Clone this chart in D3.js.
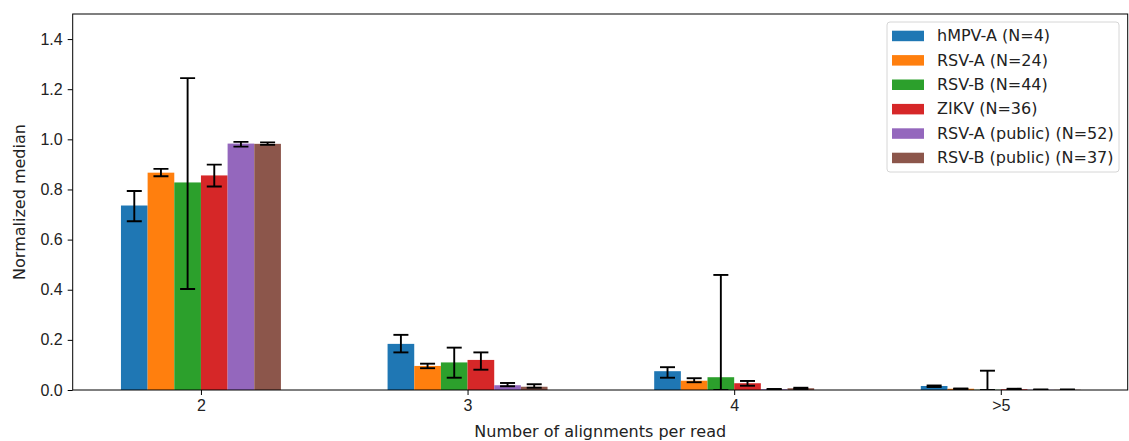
<!DOCTYPE html>
<html>
<head>
<meta charset="utf-8">
<style>
  body { margin: 0; background: #fff; }
  svg { display: block; font-family: "DejaVu Sans", sans-serif; }
</style>
<script src="https://cdn.jsdelivr.net/npm/d3@7"></script>
</head>
<body>
<svg width="1129" height="441"></svg>
<script>

// categories and series
var groups = ["2", "3", "4", ">5"];
var series = ["hMPV-A (N=4)", "RSV-A (N=24)", "RSV-B (N=44)", "ZIKV (N=36)", "RSV-A (public) (N=52)", "RSV-B (public) (N=37)"];
var colors = ["#1f77b4", "#ff7f0e", "#2ca02c", "#d62728", "#9467bd", "#8c564b"];

// median values per series, one entry per group
var medians = [
  [0.736, 0.184, 0.075, 0.016],
  [0.867, 0.096, 0.037, 0.005],
  [0.828, 0.110, 0.051, 0.001],
  [0.856, 0.120, 0.027, 0.003],
  [0.983, 0.019, 0.003, 0.001],
  [0.982, 0.013, 0.007, 0.001]
];
var errLow = [
  [0.673, 0.150, 0.049, 0.012],
  [0.853, 0.087, 0.031, 0.004],
  [0.403, 0.049, 0.000, 0.000],
  [0.812, 0.081, 0.017, 0.001],
  [0.971, 0.015, 0.002, 0.000],
  [0.978, 0.009, 0.004, 0.000]
];
var errHigh = [
  [0.794, 0.220, 0.091, 0.018],
  [0.882, 0.105, 0.047, 0.006],
  [1.244, 0.169, 0.459, 0.077],
  [0.899, 0.150, 0.036, 0.005],
  [0.990, 0.028, 0.004, 0.002],
  [0.988, 0.023, 0.009, 0.002]
];
var yTicks = [0, 0.2, 0.4, 0.6, 0.8, 1.0, 1.2, 1.4];

var svg = d3.select("svg");
var mLeft = 72.7, mRight = 1127.7, mTop = 14, mBottom = 390;
var barW = 0.1;
var fs = "16px";

var x = d3.scaleLinear().domain([-0.481, 3.476]).range([mLeft, mRight]);
var y = d3.scaleLinear().domain([0, 1.5]).range([mBottom, mTop]);

var rows = [];
series.forEach(function(s, i) {
  groups.forEach(function(g, j) {
    rows.push({s: i, pos: j + (i - 2.5) * barW, v: medians[i][j], lo: errLow[i][j], hi: errHigh[i][j]});
  });
});

svg.append("clipPath").attr("id", "plot")
  .append("rect").attr("x", mLeft).attr("y", mTop).attr("width", mRight - mLeft).attr("height", mBottom - mTop);

var plot = svg.append("g").attr("clip-path", "url(#plot)");

plot.selectAll(".bar")
    .data(rows)
  .enter().append("rect")
    .attr("class", "bar")
    .attr("x", function(d) { return x(d.pos - barW / 2); })
    .attr("width", function(d) { return x(d.pos + barW / 2) - x(d.pos - barW / 2); })
    .attr("y", function(d) { return y(d.v); })
    .attr("height", function(d) { return y(0) - y(d.v); })
    .attr("fill", function(d) { return colors[d.s]; });

var err = plot.selectAll(".err")
    .data(rows)
  .enter().append("g")
    .attr("class", "err")
    .attr("stroke", "#000")
    .attr("stroke-width", 1.9);

err.append("line")
    .attr("x1", function(d) { return x(d.pos); })
    .attr("x2", function(d) { return x(d.pos); })
    .attr("y1", function(d) { return y(d.lo); })
    .attr("y2", function(d) { return y(d.hi); });
err.append("line")
    .attr("x1", function(d) { return x(d.pos) - 7.5; })
    .attr("x2", function(d) { return x(d.pos) + 7.5; })
    .attr("y1", function(d) { return y(d.hi); })
    .attr("y2", function(d) { return y(d.hi); });
err.append("line")
    .attr("x1", function(d) { return x(d.pos) - 7.5; })
    .attr("x2", function(d) { return x(d.pos) + 7.5; })
    .attr("y1", function(d) { return y(d.lo); })
    .attr("y2", function(d) { return y(d.lo); });

// axes
var xAxis = d3.axisBottom(x)
    .tickValues(d3.range(groups.length))
    .tickFormat(function(d) { return groups[d]; })
    .tickSize(5).tickPadding(5);
var yAxis = d3.axisLeft(y)
    .tickValues(yTicks)
    .tickFormat(d3.format(".1f"))
    .tickSize(5).tickPadding(5);

var gx = svg.append("g").attr("transform", "translate(0," + mBottom + ")").call(xAxis);
var gy = svg.append("g").attr("transform", "translate(" + mLeft + ",0)").call(yAxis);
[gx, gy].forEach(function(g) {
  g.select(".domain").remove();
  g.selectAll(".tick line").attr("stroke", "#000").attr("stroke-width", 1);
  g.selectAll(".tick text").attr("fill", "#222").style("font-size", fs);
});

svg.append("rect")
    .attr("x", mLeft).attr("y", mTop)
    .attr("width", mRight - mLeft).attr("height", mBottom - mTop)
    .attr("fill", "none").attr("stroke", "#000").attr("stroke-width", 1);

svg.append("text")
    .attr("x", (mLeft + mRight) / 2).attr("y", 437)
    .attr("text-anchor", "middle")
    .style("font-size", fs).attr("fill", "#222")
    .text("Number of alignments per read");

svg.append("text")
    .attr("transform", "translate(25," + (mTop + mBottom) / 2 + ") rotate(-90)")
    .attr("text-anchor", "middle")
    .style("font-size", fs).attr("fill", "#222")
    .text("Normalized median");

// legend
var legend = svg.append("g");
legend.append("rect")
    .attr("x", 887).attr("y", 22).attr("width", 232).attr("height", 150).attr("rx", 3)
    .attr("fill", "#fff").attr("fill-opacity", 0.8)
    .attr("stroke", "#d6d6d6").attr("stroke-width", 1);

var item = legend.selectAll(".item")
    .data(series)
  .enter().append("g")
    .attr("class", "item")
    .attr("transform", function(d, i) { return "translate(892," + (35.7 + i * 24.4) + ")"; });
item.append("rect")
    .attr("x", 0).attr("y", -5).attr("width", 32).attr("height", 10.5)
    .attr("fill", function(d, i) { return colors[i]; });
item.append("text")
    .attr("x", 45).attr("y", 5.5)
    .style("font-size", fs).attr("fill", "#222")
    .text(function(d) { return d; });

</script>
</body>
</html>
